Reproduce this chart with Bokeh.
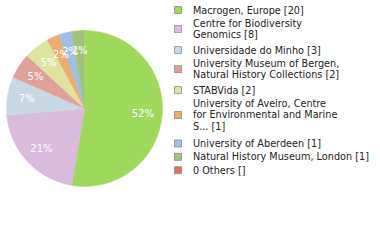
import numpy as np
from bokeh.plotting import figure
from bokeh.models import ColumnDataSource, Range1d
from bokeh.embed import file_html
from bokeh.resources import INLINE
from bokeh.core.properties import value

# ---- data ----
names = ["Macrogen, Europe", "Centre for Biodiversity Genomics", "Universidade do Minho",
         "University Museum of Bergen, Natural History Collections", "STABVida",
         "University of Aveiro, Centre for Environmental and Marine S...",
         "University of Aberdeen", "Natural History Museum, London", "0 Others"]
counts = [20, 8, 3, 2, 2, 1, 1, 1, 0]
legend_lines = [
    ["Macrogen, Europe [20]"],
    ["Centre for Biodiversity", "Genomics [8]"],
    ["Universidade do Minho [3]"],
    ["University Museum of Bergen,", "Natural History Collections [2]"],
    ["STABVida [2]"],
    ["University of Aveiro, Centre", "for Environmental and Marine", "S... [1]"],
    ["University of Aberdeen [1]"],
    ["Natural History Museum, London [1]"],
    ["0 Others []"],
]
colors = ["#9fd95c", "#dbbbdd", "#c8d8e4", "#e0a198", "#dde4a0",
          "#f0ac70", "#a0bfe4", "#a0c47a", "#e07058"]

W, H = 372, 232
FONT = "DejaVu Sans"

def py(page_y):
    return H - page_y

def px(page_x):
    return page_x

p = figure(width=W, height=H, output_backend="svg", toolbar_location=None,
           x_range=Range1d(0, W), y_range=Range1d(0, H), min_border=0)
p.axis.visible = False
p.grid.visible = False
p.outline_line_color = None
p.background_fill_color = "white"
p.border_fill_color = "white"

# ---- pie ----
vals = np.array(counts, dtype=float)
total = vals.sum()
frac = vals / total
cum = np.concatenate([[0], np.cumsum(frac)])
start = np.pi / 2 - cum[:-1] * 2 * np.pi
end = np.pi / 2 - cum[1:] * 2 * np.pi
cx, cy, r = px(84), py(108), 78

mask = vals > 0
src = ColumnDataSource(dict(start=start[mask], end=end[mask],
                            color=[c for c, m in zip(colors, mask) if m]))
p.wedge(x=cx, y=cy, radius=r, start_angle="start", end_angle="end",
        direction="clock", fill_color="color", line_color="color",
        line_width=0.5, source=src)

mid = (start + end) / 2
pct = [f"{int(np.floor(f * 100))}%" for f in frac]
lx = cx + 0.75 * r * np.cos(mid)
ly = cy + 0.75 * r * np.sin(mid)
lsrc = ColumnDataSource(dict(x=lx[mask], y=ly[mask],
                             t=[t for t, m in zip(pct, mask) if m]))
p.text(x="x", y="y", text="t", source=lsrc, text_color="white",
       text_font=value(FONT), text_font_size="10px",
       text_align="center", text_baseline="middle")

# ---- legend ----
step = 13.35
inner = 11.5
k = 0
sq_x, sq_y, tx, ty, tt = [], [], [], [], []
for lines in legend_lines:
    y0 = 9.5 + step * k
    ys = [y0 + inner * j for j in range(len(lines))]
    sq_x.append(px(177.5))
    sq_y.append(py(np.mean(ys)))
    for yy, t in zip(ys, lines):
        tx.append(px(192.5))
        ty.append(py(yy))
        tt.append(t)
    k += len(lines)

p.rect(x=sq_x, y=sq_y, width=7, height=7, fill_color=colors,
       line_color="#8c8c8c", line_width=0.8)
p.text(x=tx, y=ty, text=tt, text_color="#222222", text_font=value(FONT),
       text_font_size="9.7px", text_align="left", text_baseline="middle")

open("out.html", "w").write(file_html(p, INLINE))
